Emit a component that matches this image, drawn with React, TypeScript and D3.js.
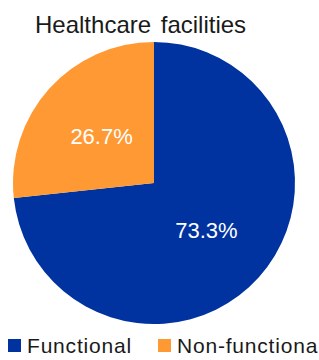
import React from "react";
import * as d3 from "d3";

const title = "Healthcare facilities";
const categories = ["Functional", "Non-functional"];
const values = [73.3, 26.7];
const colors = ["#0033A0", "#FF9933"];

export default function App() {
  const width = 319;
  const height = 360;
  const cx = 154;
  const cy = 183;
  const r = 141;
  const pie = d3.pie<number>().sort(null).value((d) => d);
  const arcs = pie(values);
  const arc = d3.arc<d3.PieArcDatum<number>>().innerRadius(0).outerRadius(r);
  const labelArc = d3.arc<d3.PieArcDatum<number>>().innerRadius(r * 0.5).outerRadius(r * 0.5);
  const legendX = [8, 158];
  return (
    <svg
      width={width}
      height={height}
      style={{ position: "fixed", left: 0, top: 0, fontFamily: "Liberation Sans, Arial, sans-serif" }}
    >
      <rect width={width} height={height} fill="#fff" />
      <text x={35} y={33} fontSize={24} fill="#1a1a1a" wordSpacing={3}>
        {title}
      </text>
      <g transform={`translate(${cx},${cy})`}>
        {arcs.map((a, i) => (
          <path key={i} d={arc(a) || ""} fill={colors[i]} />
        ))}
        {arcs.map((a, i) => {
          const [x, y] = labelArc.centroid(a);
          return (
            <text key={"l" + i} x={x} y={y} dy="0.36em" textAnchor="middle" fontSize={22} fill="#fff">
              {values[i].toFixed(1) + "%"}
            </text>
          );
        })}
      </g>
      {categories.map((c, i) => (
        <g key={c} transform={`translate(${legendX[i]},339)`}>
          <rect x={0} y={0} width={13} height={13} fill={colors[i]} />
          <text x={19} y={14} fontSize={21} letterSpacing={0.8} fill="#1a1a1a">
            {c}
          </text>
        </g>
      ))}
    </svg>
  );
}
